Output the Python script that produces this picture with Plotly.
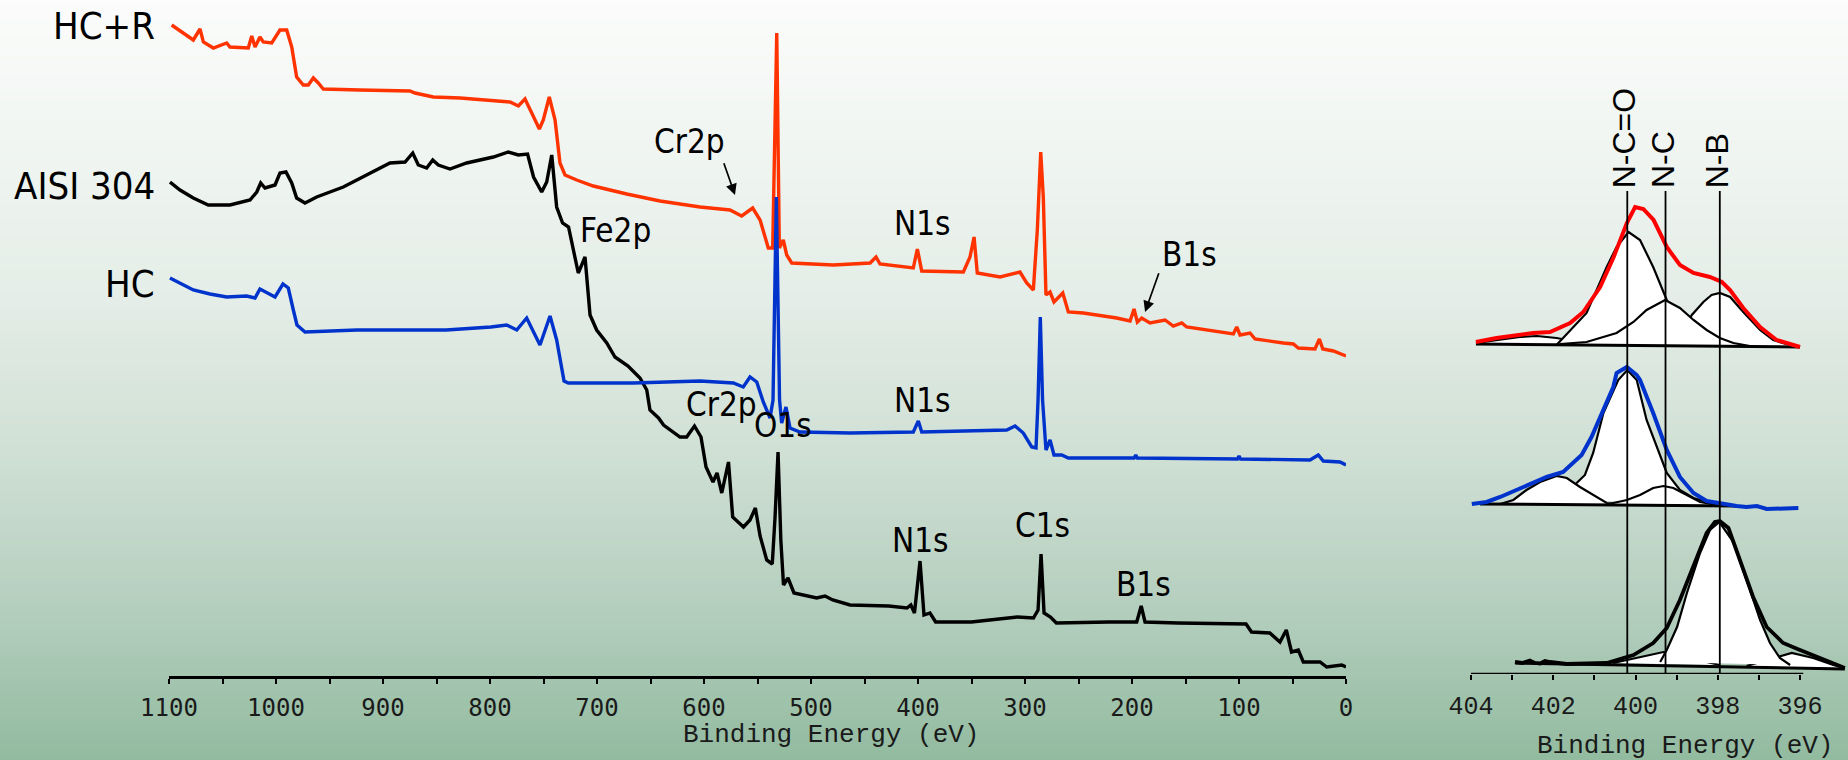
import plotly.graph_objects as go

# ---------------- Survey spectra: (binding energy eV, intensity a.u.) ----------------
hcr_survey = [(1097.5,651),(1077.3,636),(1071.0,647),(1067.9,634),(1058.6,628),(1046.1,633),(1043.0,629),
 (1025.9,628),(1022.7,640),(1019.6,629),(1015.0,639),(1011.9,634),(1004.0,633),(996.3,646),(990.0,646),
 (985.3,629),(980.7,599),(974.5,591),(969.8,591),(965.1,598),(960.5,593),(955.8,587),(921.5,586),(874.8,585),
 (870.1,583),(853.0,579),(828.0,578),(796.9,575),(781.3,574),(773.5,570),(767.3,577),(761.0,563),(753.9,547),
 (750.2,556),(744.6,579),(739.2,556),(734.6,513),(729.9,501),(719.0,496),(703.4,490),(672.2,482),(641.1,475),
 (603.7,469),(575.7,466),(564.8,460),(554.5,468),(547.6,456),(539.9,428),(535.8,428),(532.0,643),(529.6,428),
 (525.9,436),(522.7,421),(518.0,413),(479.1,411),(444.8,413),(439.2,419),(435.5,412),(404.4,408),(400.6,427),
 (396.5,405),(357.6,404),(351.4,419),(347.6,439),(344.6,403),(323.3,399),(304.7,404),(298.4,393),(292.2,386),
 (288.5,446),(285.3,524),(282.9,479),(280.4,381),(276.6,384),(272.9,374),(264.7,383),(259.5,364),(245.5,363),
 (214.3,358),(201.8,355),(198.1,367),(195.0,354),(190.9,358),(183.2,353),(169.1,356),(161.4,350),(153.5,353),
 (148.9,349),(105.3,342),(102.1,349),(99.0,341),(89.7,343),(85.0,337),(58.6,333),(49.2,332),(44.6,328),
 (29.0,327),(24.9,337),(21.7,327),(11.8,325),(0.0,320)]

aisi_survey = [(1099.1,494),(1089.7,486),(1077.3,478),(1063.3,471),(1043.0,471),(1024.3,476),(1018.0,484),
 (1014.3,493),(1010.3,488),(1000.9,491),(996.3,503),(990.7,504),(985.3,493),(980.7,478),(972.9,473),(962.0,479),
 (937.1,489),(915.2,501),(893.5,513),(879.4,514),(872.2,523),(867.0,511),(859.2,508),(853.5,516),(848.3,511),
 (837.4,507),(821.8,513),(796.9,519),(782.9,524),(773.5,521),(764.9,522),(759.3,499),(751.7,484),(747.0,494),
 (742.3,521),(737.7,469),(732.2,453),(726.6,449),(721.5,421),(717.5,403),(714.3,411),(711.2,419),(706.5,361),
 (700.3,346),(690.9,333),(683.2,319),(671.0,310),(659.8,298),(653.5,286),(650.5,266),(642.5,258),(637.8,251),
 (622.4,239),(616.2,239),(608.9,250),(602.8,239),(598.1,209),(591.6,194),(587.8,203),(583.4,183),(577.1,214),
 (573.2,159),(563.1,149),(557.0,156),(552.0,168),(547.6,140),(541.4,116),(536.2,112),(533.6,159),(530.8,224),
 (528.2,136),(525.7,91),(521.5,98),(515.9,83),(494.7,78),(486.9,80),(479.7,76),(463.5,71),(427.4,70),
 (410.3,68),(406.7,71),(403.3,63),(398.1,115),(394.4,61),(388.8,63),(383.5,54),(350.1,54),(307.2,59),
 (292.1,58),(287.8,66),(285.0,122),(282.2,63),(276.2,59),(270.7,53),(221.5,54),(195.6,54),(191.4,70),
 (187.8,54),(157.0,53),(93.4,52),(88.3,44),(71.2,43),(61.7,34),(55.8,46),(50.9,24),(44.6,26),(39.9,14),
 (24.3,14),(18.0,9),(4.0,11),(0.0,9)]

hc_survey = [(1099.1,398),(1086.6,391),(1077.3,386),(1061.7,382),(1046.1,379),(1027.4,380),(1019.6,378),
 (1015.0,387),(1008.7,383),(1000.9,379),(993.5,392),(988.5,388),(983.8,366),(980.4,351),(972.9,344),(924.3,346),
 (841.1,346),(799.1,349),(784.4,351),(775.0,346),(765.7,358),(753.3,331),(743.9,360),(737.7,336),(730.8,295),
 (726.8,293),(666.0,293),(603.7,295),(572.6,293),(563.3,289),(557.0,299),(550.7,294),(544.6,274),(538.3,258),
 (535.5,276),(532.4,479),(529.4,276),(527.4,253),(523.4,269),(519.6,248),(510.3,244),(463.5,243),(404.4,244),
 (399.7,255),(396.5,244),(317.1,246),(309.3,250),(301.6,243),(293.7,229),(289.7,228),(287.8,276),(285.7,359),
 (283.6,276),(280.4,226),(276.6,236),(272.9,221),(265.7,221),(259.5,218),(198.0,218),(196.5,221),(195.0,218),
 (101.5,217),(100.0,220),(98.5,217),(33.6,216),(25.9,221),(21.2,215),(5.6,214),(0.0,211)]

# ---------------- N1s high resolution: (binding energy eV, intensity a.u.) ----------------
n1s_hcr = [(403.88,334),(403.38,338),(402.49,343),(402.08,344),(401.59,353),(401.27,364),(400.86,389),
 (400.53,419),(400.21,453),(400.01,469),(399.81,467),(399.56,456),(399.24,429),(398.92,411),(398.59,403),
 (398.19,399),(397.90,394),(397.70,386),(397.38,368),(396.97,349),(396.57,336),(396.00,329)]
hcr_fit_small = [(403.88,333),(403.29,336),(402.81,339),(402.40,340),(401.92,338),(401.47,334.5),(400.98,332)]
hcr_fit_nco = [(401.92,331),(401.19,363),(400.70,409),(400.46,429),(400.17,444),(399.89,436),(399.57,409),
 (399.24,376),(398.84,349),(398.43,336),(397.95,331)]
hcr_fit_nb = [(399.40,332),(398.92,340),(398.63,361),(398.35,374),(398.15,381),(397.95,383),(397.70,379),
 (397.38,364),(396.97,346),(396.65,336),(396.34,332),(396.00,329)]
hcr_fit_nc = [(401.84,332),(401.19,334),(400.46,343),(400.05,354),(399.73,366),(399.28,376),(398.92,368),
 (398.59,356),(398.27,346),(397.95,338),(397.62,333),(397.22,330)]
hcr_base = [(403.88,332),(396.00,329)]

n1s_hc = [(403.98,172),(403.62,174),(403.29,179),(402.89,186),(402.49,193),(402.16,199),(401.76,204),
 (401.51,213),(401.31,221),(401.07,239),(400.78,266),(400.54,289),(400.46,303),(400.21,309),(399.97,301),
 (399.89,296),(399.57,263),(399.24,226),(398.92,199),(398.59,183),(398.27,175),(397.87,172),(397.54,170),
 (397.30,169),(397.05,170),(396.81,167),(396.41,168),(396.04,168)]
hc_fit_nco = [(401.71,176),(401.43,193),(401.23,201),(401.03,223),(400.78,263),(400.42,296),(400.20,306),
 (399.97,296),(399.73,256),(399.40,219),(399.24,203),(398.92,186),(398.59,178),(398.19,173),(397.82,172)]
hc_fit_hi = [(403.29,172),(402.97,176),(402.65,186),(402.32,194),(401.92,200),(401.67,198),(401.35,189),
 (401.03,181),(400.70,173),(400.38,172)]
hc_fit_nc = [(400.70,171),(400.54,173),(400.21,176),(399.89,181),(399.57,188),(399.32,190),(399.08,188),
 (398.75,181),(398.43,174),(398.02,171)]
hc_base = [(403.78,172),(397.54,170)]

n1s_aisi = [(402.93,14),(402.75,13),(402.57,15.5),(402.45,13),(402.32,12.5),(402.20,15),(402.08,14),
 (401.67,12),(400.70,13),(400.05,21),(399.57,33),
 (399.24,48),(398.92,76),(398.59,109),(398.27,143),(398.07,154),(397.95,155),(397.74,148),(397.46,116),
 (397.14,79),(396.81,49),(396.41,33),(396.00,26),(395.59,19),(395.19,13),(394.91,8)]
aisi_fit_nb = [(399.40,14),(399.24,26),(398.99,49),(398.75,83),(398.43,123),(398.19,146),(397.96,154),
 (397.62,134),(397.30,96),(396.97,56),(396.73,33),(396.49,18),(396.24,11)]
aisi_fit_nc = [(400.54,13),(399.89,19),(399.32,24),(398.75,21),(398.27,14),(397.95,11)]
aisi_fit_lo = [(397.30,10),(396.81,16),(396.20,23),(395.68,18),(395.19,11),(394.91,8)]
aisi_base = [(402.93,13),(394.91,7)]

ref_lines_be = [400.2, 399.27, 397.95]
ref_lines_lab = ["N-C=O", "N-C", "N-B"]

survey_ticks = [1100, 1000, 900, 800, 700, 600, 500, 400, 300, 200, 100, 0]
hr_ticks = [404, 402, 400, 398, 396]
hr_minor = [403, 401, 399, 397]

# peak labels on the survey panel: (text, BE, intensity)
peak_labels = [("Fe2p", 682.7, 446), ("Cr2p", 613.1, 535), ("N1s", 395.8, 453), ("B1s", 146.7, 422),
               ("Cr2p", 583.6, 272), ("N1s", 395.8, 276), ("O1s", 526.2, 251),
               ("N1s", 397.7, 136), ("C1s", 283.2, 151), ("B1s", 189.7, 92)]
sample_labels = [("HC+R", 650), ("AISI 304", 490), ("HC", 392)]

W, H = 1848, 760
fig = go.Figure()

def xs(p):
    return [a for a, b in p]

def ys(p):
    return [b for a, b in p]

# survey traces
for data, col in [(hcr_survey, "#ff3300"), (aisi_survey, "#000000"), (hc_survey, "#0033cc")]:
    fig.add_trace(go.Scatter(x=xs(data), y=ys(data), mode="lines", xaxis="x", yaxis="y",
                             line=dict(color=col, width=3.4), hoverinfo="skip", showlegend=False))

# N1s panels
def add_fit(comp):
    fig.add_trace(go.Scatter(x=xs(comp), y=ys(comp), mode="lines", fill="toself", fillcolor="white",
                             line=dict(color="black", width=2.2), xaxis="x2", yaxis="y2",
                             hoverinfo="skip", showlegend=False))

def add_line(data, col, w):
    fig.add_trace(go.Scatter(x=xs(data), y=ys(data), mode="lines", line=dict(color=col, width=w),
                             xaxis="x2", yaxis="y2", hoverinfo="skip", showlegend=False))

for c in [hcr_fit_small, hcr_fit_nco, hcr_fit_nb, hcr_fit_nc]:
    add_fit(c)
add_line(hcr_base, "black", 3)
add_line(n1s_hcr, "#ff0000", 4)

for c in [hc_fit_nco, hc_fit_hi, hc_fit_nc]:
    add_fit(c)
add_line(hc_base, "black", 3)
add_line(n1s_hc, "#0033cc", 4)

for c in [aisi_fit_lo, aisi_fit_nc, aisi_fit_nb]:
    add_fit(c)
add_line(aisi_base, "black", 3)
add_line(n1s_aisi, "black", 3.8)

# ---------------- background gradient (style only) ----------------
stops = [(0, (251, 252, 251)), (150, (240, 245, 241)), (300, (228, 237, 231)),
         (450, (208, 224, 213)), (600, (182, 207, 191)), (760, (146, 187, 160))]

def grad(py):
    for (p0, c0), (p1, c1) in zip(stops[:-1], stops[1:]):
        if p0 <= py <= p1:
            t = (py - p0) / (p1 - p0)
            return "rgb(%d,%d,%d)" % tuple(round(c0[i] + (c1[i] - c0[i]) * t) for i in range(3))
    return "rgb(146,187,160)"

shapes = []
band = 5
for i in range(0, H, band):
    shapes.append(dict(type="rect", xref="paper", yref="paper", x0=0, x1=1,
                       y0=1 - (i + band + 0.6) / H, y1=1 - i / H,
                       fillcolor=grad(i + band / 2), line=dict(width=0), layer="below"))

# N1s reference lines
for be in ref_lines_be:
    shapes.append(dict(type="line", xref="x2", yref="y2", x0=be, x1=be, y0=2, y1=485,
                       line=dict(color="black", width=1.8)))
# N1s axis line (stops at end of tick range)
shapes.append(dict(type="line", xref="x2", yref="y2", x0=404, x1=395.92, y0=2, y1=2,
                   line=dict(color="black", width=2.4)))

ann = []
label_family = "DejaVu Sans Condensed, Liberation Sans Narrow, DejaVu Sans"
label_font = dict(family=label_family, size=33, color="black")
for txt, be, iv in peak_labels:
    ann.append(dict(text=txt, x=be, y=iv, xref="x", yref="y", showarrow=False,
                    xanchor="center", yanchor="middle", font=label_font))
for txt, iv in sample_labels:
    ann.append(dict(text=txt, x=1100, y=iv, xref="x", yref="y", showarrow=False, xshift=-12,
                    xanchor="right", yanchor="middle",
                    font=dict(family=label_family, size=38, color="black")))
# arrows
ann.append(dict(text="", x=571, y=481, xref="x", yref="y", showarrow=True, ax=-11.7, ay=-33.3,
                arrowhead=2, arrowsize=1.3, arrowwidth=1.7, arrowcolor="black", standoff=0))
ann.append(dict(text="", x=187.8, y=364, xref="x", yref="y", showarrow=True, ax=14.3, ay=-40.3,
                arrowhead=2, arrowsize=1.3, arrowwidth=1.7, arrowcolor="black", standoff=0))
# rotated bond labels
for be, lab in zip(ref_lines_be, ref_lines_lab):
    ann.append(dict(text=lab, x=be, y=486, xref="x2", yref="y2", showarrow=False, textangle=-90,
                    xanchor="center", yanchor="bottom", xshift=-3,
                    font=dict(family="Liberation Sans, Arial", size=32, color="black")))
# axis titles
title_font = dict(family="Liberation Mono, Courier New, monospace", size=26, color="#1a1a1a")
ann.append(dict(text="Binding Energy (eV)", x=831 / W, y=1 - 735 / H, xref="paper", yref="paper",
                showarrow=False, xanchor="center", yanchor="middle", font=title_font))
ann.append(dict(text="Binding Energy (eV)", x=1685 / W, y=1 - 746 / H, xref="paper", yref="paper",
                showarrow=False, xanchor="center", yanchor="middle", font=title_font))

fig.update_layout(
    template="none",
    width=W, height=H, autosize=False,
    margin=dict(l=0, r=0, t=0, b=0, pad=0, autoexpand=False),
    paper_bgcolor="rgb(200,218,205)", plot_bgcolor="rgba(0,0,0,0)",
    showlegend=False, shapes=shapes, annotations=ann,
    xaxis=dict(domain=[169 / W, 1346 / W], range=[1100, 0], anchor="y", automargin=False,
               tickvals=survey_ticks, ticktext=[str(t) for t in survey_ticks],
               ticks="outside", ticklen=5, tickwidth=1.5, tickcolor="black",
               minor=dict(dtick=50, tick0=0, ticks="outside", ticklen=5, tickwidth=1.5, tickcolor="black",
                          showgrid=False),
               showline=True, linecolor="black", linewidth=2.6, showgrid=False, zeroline=False,
               tickfont=dict(family="DejaVu Sans Mono, monospace", size=24, color="#1a1a1a"),
               ticklabelstandoff=3),
    yaxis=dict(domain=[1 - 676 / H, 1], range=[0, 676], visible=False, anchor="x", automargin=False),
    xaxis2=dict(domain=[1471 / W, 1], range=[404, 404 - 377 / 41.125], anchor="y2", automargin=False,
                tickvals=hr_ticks, ticktext=[str(t) for t in hr_ticks],
                ticks="outside", ticklen=5, tickwidth=1.5, tickcolor="black",
                minor=dict(tickvals=hr_minor, ticks="outside", ticklen=5, tickwidth=1.5, tickcolor="black",
                           showgrid=False),
                showline=False, showgrid=False, zeroline=False,
                tickfont=dict(family="Liberation Mono, Courier New, monospace", size=25, color="#1a1a1a"),
                ticklabelstandoff=4),
    yaxis2=dict(domain=[1 - 674 / H, 1], range=[2, 676], visible=False, anchor="x2", automargin=False),
)

fig.write_html("out.html")
